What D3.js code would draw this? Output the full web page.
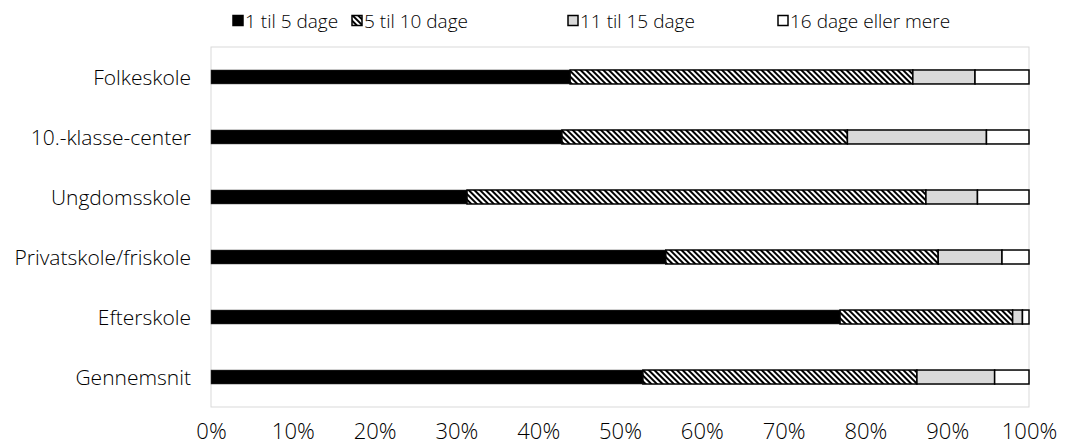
<!DOCTYPE html>
<html><head><meta charset="utf-8">
<script src="https://cdn.jsdelivr.net/npm/d3@7/dist/d3.min.js"></script>
<style>body{margin:0;background:#fff}svg text{font-family:"Open Sans",sans-serif;fill:#000}</style>
</head><body><svg id="c" width="1067" height="445"></svg>
<script>
const categories = ["Folkeskole","10.-klasse-center","Ungdomsskole","Privatskole/friskole","Efterskole","Gennemsnit"];
const seriesNames = ["1 til 5 dage","5 til 10 dage","11 til 15 dage","16 dage eller mere"];
const s1 = [43.9, 42.9, 31.3, 55.6, 76.9, 52.8];
const s2 = [41.9, 34.9, 56.1, 33.3, 21.1, 33.5];
const s3 = [7.6, 17.0, 6.3, 7.8, 1.2, 9.5];
const s4 = [6.6, 5.2, 6.3, 3.3, 0.8, 4.2];
const tickValues = [0,10,20,30,40,50,60,70,80,90,100];

const svg = d3.select("#c");
const defs = svg.append("defs");
const pat = defs.append("pattern").attr("id","hatch").attr("patternUnits","userSpaceOnUse")
  .attr("width",4).attr("height",4).attr("patternTransform","rotate(-45)");
pat.append("rect").attr("width",4).attr("height",4).attr("fill","#fff");
pat.append("rect").attr("width",2).attr("height",4).attr("fill","#000");

const pLeft = 211, pRight = 1029, pTop = 47, pBottom = 407;
const x = d3.scaleLinear().domain([0,100]).range([pLeft,pRight]);
const y = d3.scaleBand().domain(categories).range([pTop,pBottom]).paddingInner(0.767).paddingOuter(0.383);

// frame
svg.append("rect").attr("x",pLeft).attr("y",pTop).attr("width",pRight-pLeft).attr("height",pBottom-pTop)
  .attr("fill","none").attr("stroke","#d9d9d9").attr("stroke-width",1);

const fills = ["#000","url(#hatch)","#d9d9d9","#fff"];
const series = [s1,s2,s3,s4];
const rows = categories.map((c,i)=>{ const r={cat:c}; seriesNames.forEach((n,k)=>r[n]=series[k][i]); return r;});
const stacked = d3.stack().keys(seriesNames)(rows);

stacked.forEach((layer,k)=>{
  svg.append("g").selectAll("rect").data(layer).join("rect")
    .attr("x",d=>x(d[0])).attr("width",d=>x(d[1])-x(d[0]))
    .attr("y",d=>y(d.data.cat)).attr("height",y.bandwidth())
    .attr("fill",fills[k]).attr("stroke",k===0?"#333":"#000").attr("stroke-width",k===0?0.5:1.5);
});

// y labels
svg.append("g").selectAll("text").data(categories).join("text")
  .attr("x",191).attr("y",d=>y(d)+y.bandwidth()/2).attr("dy","0.36em")
  .attr("text-anchor","end").attr("font-size",21).attr("font-weight",300).text(d=>d);

// x axis
const xa = svg.append("g").attr("transform",`translate(0,${pBottom})`)
  .call(d3.axisBottom(x).tickValues(tickValues).tickFormat(d=>d+"%").tickSize(0).tickPadding(16));
xa.select(".domain").remove();
xa.selectAll("text").attr("font-size",22).attr("font-family","Open Sans").attr("font-weight",300);

// legend
const legX = [232, 351, 567, 777];
const lg = svg.append("g");
seriesNames.forEach((n,k)=>{
  const g = lg.append("g").attr("transform",`translate(${legX[k]},21)`);
  g.append("rect").attr("x",1).attr("y",-5.5).attr("width",10).attr("height",10)
    .attr("fill",fills[k]).attr("stroke","#000").attr("stroke-width",1.5);
  g.append("text").attr("x",13).attr("y",0).attr("dy","0.36em").attr("font-size",19).attr("font-weight",300).text(n);
});
</script></body></html>
